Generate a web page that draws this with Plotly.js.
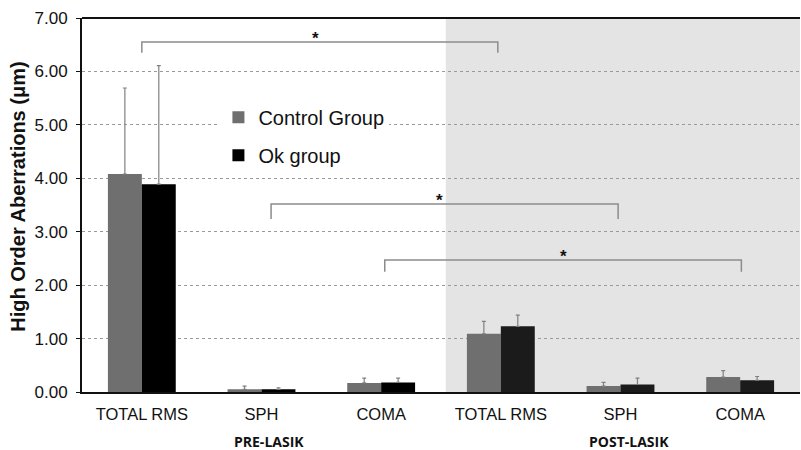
<!DOCTYPE html>
<html>
<head>
<meta charset="utf-8">
<script src="https://cdn.plot.ly/plotly-3.0.1.min.js"></script>
<style>html,body{margin:0;padding:0;background:#fff;}#chart{width:801px;height:450px;}</style>
</head>
<body>
<div id="chart"></div>
<script>
// ---- data ----
var categories = ["TOTAL RMS", "SPH", "COMA", "TOTAL RMS", "SPH", "COMA"];
var positions = [0, 1, 2, 3, 4, 5];
var phases = ["PRE-LASIK", "POST-LASIK"];
var controlValues = [4.08, 0.05, 0.17, 1.09, 0.11, 0.28];
var controlErrors = [1.61, 0.06, 0.09, 0.23, 0.07, 0.12];
var okValues = [3.89, 0.05, 0.18, 1.23, 0.14, 0.22];
var okErrors = [2.22, 0.03, 0.08, 0.21, 0.12, 0.07];
var seriesNames = ["Control Group", "Ok group"];
var yTickVals = [0, 1, 2, 3, 4, 5, 6, 7];
var yTitle = "High Order Aberrations (μm)";
// significance brackets: [from, to, top value, drop value, star position]
var brackets = [
  [0.00, 2.975, 6.55, 6.35, 1.45],
  [1.08, 3.98, 3.52, 3.24, 2.49],
  [2.03, 5.01, 2.47, 2.25, 3.52]
];

var zeros = positions.map(function(){return 0;});
var FONT = "Liberation Sans, Arial, sans-serif";

var traces = [
  {
    type: "bar", x: positions, y: controlValues, name: seriesNames[0],
    legendgroup: "a",
    marker: {color: "#6f6f6f", line: {width: 0}},
    error_y: {type: "data", symmetric: false, array: controlErrors, arrayminus: zeros,
              color: "#808080", thickness: 1.2, width: 2}
  },
  {
    type: "bar", x: positions, y: okValues, name: seriesNames[1],
    legendgroup: "b",
    marker: {color: ["#000000", "#000000", "#000000", "#1b1b1b", "#1b1b1b", "#1b1b1b"], line: {width: 0}},
    error_y: {type: "data", symmetric: false, array: okErrors, arrayminus: zeros,
              color: "#808080", thickness: 1.2, width: 2}
  }
];

var shapes = [
  {type: "rect", xref: "x", yref: "paper", x0: 2.54, x1: 5.5, y0: 0, y1: 1,
   fillcolor: "#e4e4e4", line: {width: 0}, layer: "below"}
];
var annotations = [];
brackets.forEach(function(b){
  shapes.push({type: "path", xref: "x", yref: "y",
    path: "M" + b[0] + "," + b[3] + " L" + b[0] + "," + b[2] + " L" + b[1] + "," + b[2] + " L" + b[1] + "," + b[3],
    line: {color: "#8c8c8c", width: 1.5}});
  annotations.push({xref: "x", yref: "y", x: b[4], y: b[2], yanchor: "bottom", yshift: -8,
    text: "<b>*</b>", showarrow: false, font: {family: FONT, size: 17, color: "#111"}});
});
annotations.push({xref: "x", yref: "paper", x: 1.06, y: -0.133, yanchor: "middle",
  text: "<b>" + phases[0] + "</b>", showarrow: false, font: {family: "Open Sans, sans-serif", size: 14, color: "#111"}});
annotations.push({xref: "x", yref: "paper", x: 4.07, y: -0.133, yanchor: "middle",
  text: "<b>" + phases[1] + "</b>", showarrow: false, font: {family: "Open Sans, sans-serif", size: 14, color: "#111"}});
annotations.push({xref: "paper", yref: "paper", x: -64 / 718, y: 0.522, xanchor: "center", yanchor: "middle",
  textangle: -90, text: "<b>" + yTitle + "</b>", showarrow: false,
  font: {family: FONT, size: 20, color: "#111"}});

var layout = {
  width: 801, height: 450,
  margin: {l: 82, r: 1, t: 18, b: 58},
  paper_bgcolor: "#ffffff", plot_bgcolor: "#ffffff",
  barmode: "group", bargap: 0.433, bargroupgap: 0,
  showlegend: true,
  legend: {x: 0.19, y: 0.787, xanchor: "left", yanchor: "top",
           bgcolor: "#ffffff", font: {family: FONT, size: 20, color: "#111"},
           traceorder: "grouped", tracegroupgap: 9, itemwidth: 30},
  xaxis: {
    range: [-0.5, 5.5], tickmode: "array", tickvals: positions, ticktext: categories,
    showgrid: false, zeroline: false, showline: true, linecolor: "#111", linewidth: 2,
    ticks: "", ticklabelstandoff: 6,
    tickfont: {family: FONT, size: 16.5, color: "#111"}
  },
  yaxis: {
    range: [0, 7], tickmode: "array", tickvals: yTickVals, tickformat: ".2f",
    showgrid: true, gridcolor: "#9a9a9a", griddash: "dot", gridwidth: 1,
    zeroline: false, showline: true, linecolor: "#111", linewidth: 2, mirror: false,
    ticks: "outside", ticklen: 4, tickcolor: "#111", ticklabelstandoff: 5,
    tickfont: {family: FONT, size: 17, color: "#111"}
  },
  shapes: shapes.concat([
    {type: "line", xref: "paper", yref: "paper", x0: 0, x1: 1, y0: 1, y1: 1, line: {color: "#111", width: 2}}
  ]),
  annotations: annotations
};

Plotly.newPlot("chart", traces, layout, {displayModeBar: false, staticPlot: true});
</script>
</body>
</html>
